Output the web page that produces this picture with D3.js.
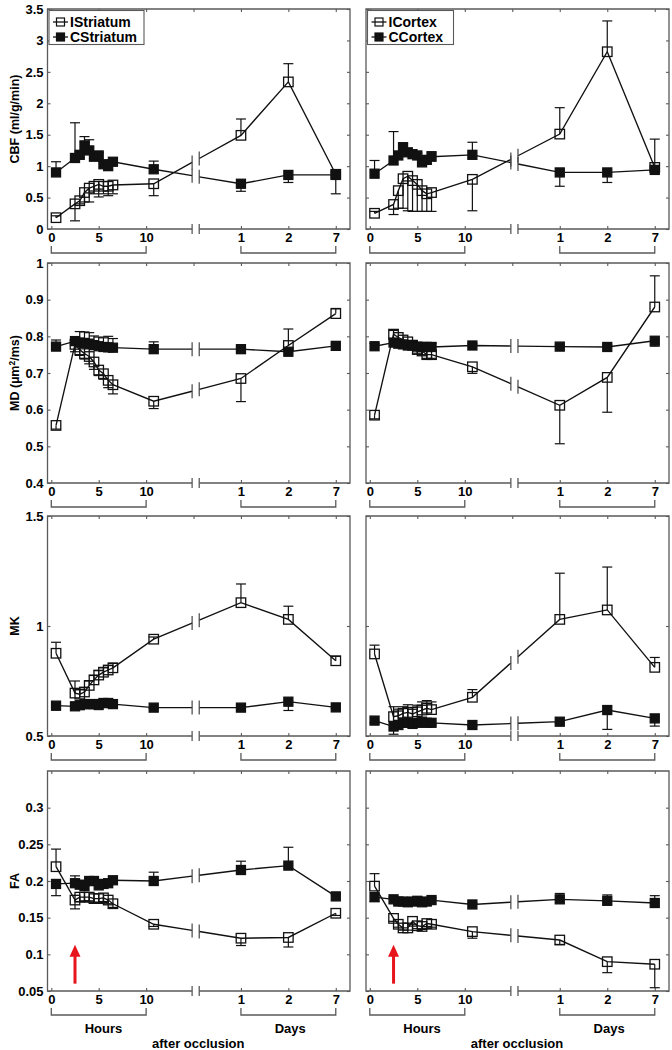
<!DOCTYPE html>
<html>
<head>
<meta charset="utf-8">
<script src="https://cdnjs.cloudflare.com/ajax/libs/d3/7.8.5/d3.min.js"></script>
<style>
body { margin: 0; background: #fff; }
text { font-family: "Liberation Sans", Arial, sans-serif; font-weight: bold; }
</style>
</head>
<body>
<script>
// time points: hours after occlusion, then days
var hours = [0.5, 2.5, 3, 3.5, 4, 4.5, 5, 5.5, 6, 6.5, 10.8],
    days = [1, 2, 7];

var xTicks = [0, 5, 10, 15, 20, 25, 30],
    xTickLabels = ['0', '5', '10', '', '1', '2', '7'];

var yLims = [[0, 3.5], [0.4, 1], [0.5, 1.5], [0.05, 0.35]];
var yTicks = [
    [0, 0.5, 1, 1.5, 2, 2.5, 3, 3.5],
    [0.4, 0.5, 0.6, 0.7, 0.8, 0.9, 1],
    [0.5, 1, 1.5],
    [0.05, 0.1, 0.15, 0.2, 0.25, 0.3]
];
var yTickLabels = [
    ['0', '0.5', '1', '1.5', '2', '2.5', '3', '3.5'],
    ['0.4', '0.5', '0.6', '0.7', '0.8', '0.9', '1'],
    ['0.5', '1', '1.5'],
    ['0.05', '0.1', '0.15', '0.2', '0.25', '0.3']
];

var legendNames = [['IStriatum', 'CStriatum'], ['ICortex', 'CCortex']];

// CBF
var cbfIStriatum = [0.18, 0.40, 0.45, 0.58, 0.65, 0.68, 0.71, 0.68, 0.68, 0.70, 0.72, 1.49, 2.34, 0.87],
    cbfIStriatumErr = [0.03, -0.27, -0.05, -0.15, -0.22, -0.12, -0.20, -0.12, -0.15, -0.14, -0.19, 0.26, 0.29, 0.03],
    cbfCStriatum = [0.90, 1.13, 1.18, 1.33, 1.25, 1.15, 1.17, 1.03, 1.00, 1.07, 0.95, 0.72, 0.86, 0.86],
    cbfCStriatumErr = [0.17, 0.56, 0.05, 0.14, 0.17, 0.05, 0.04, 0.04, 0.04, 0.04, 0.13, -0.12, -0.12, -0.30];
var cbfICortex = [0.25, 0.39, 0.61, 0.80, 0.84, 0.77, 0.71, 0.61, 0.56, 0.58, 0.79, 1.51, 2.82, 0.98],
    cbfICortexErr = [0.03, -0.16, -0.28, -0.47, -0.55, -0.49, -0.43, -0.33, -0.28, -0.30, -0.50, 0.42, 0.49, 0.45],
    cbfCCortex = [0.88, 1.09, 1.17, 1.30, 1.22, 1.19, 1.17, 1.06, 1.10, 1.15, 1.18, 0.90, 0.90, 0.94],
    cbfCCortexErr = [0.21, 0.46, 0.05, 0.07, 0.05, 0.04, 0.04, 0.04, 0.05, 0.08, 0.20, -0.22, -0.16, 0.03];

// MD
var mdIStriatum = [0.557, 0.778, 0.763, 0.753, 0.745, 0.730, 0.708, 0.698, 0.680, 0.668, 0.623, 0.685, 0.775, 0.862],
    mdIStriatumErr = [-0.01, -0.02, -0.015, -0.015, -0.02, -0.02, -0.015, -0.015, -0.02, -0.025, -0.02, -0.063, 0.045, 0.014],
    mdCStriatum = [0.772, 0.787, 0.783, 0.782, 0.780, 0.776, 0.773, 0.771, 0.770, 0.769, 0.765, 0.765, 0.758, 0.774],
    mdCStriatumErr = [0.018, 0.01, 0.03, 0.03, 0.03, 0.025, 0.025, 0.025, 0.03, 0.025, 0.02, 0.005, 0.005, 0.005];
var mdICortex = [0.585, 0.806, 0.797, 0.790, 0.785, 0.776, 0.764, 0.760, 0.750, 0.750, 0.717, 0.612, 0.688, 0.880],
    mdICortexErr = [-0.01, 0.01, -0.012, -0.01, -0.01, -0.01, -0.01, -0.01, -0.01, -0.01, -0.018, -0.105, -0.095, 0.085],
    mdCCortex = [0.773, 0.783, 0.780, 0.778, 0.775, 0.775, 0.772, 0.771, 0.771, 0.771, 0.775, 0.772, 0.771, 0.788],
    mdCCortexErr = [0.008, 0.01, 0.01, 0.01, 0.01, 0.01, 0.01, 0.01, 0.012, 0.01, 0.005, 0.004, 0.005, -0.015];

// MK
var mkIStriatum = [0.876, 0.695, 0.690, 0.700, 0.730, 0.755, 0.777, 0.790, 0.800, 0.810, 0.940, 1.106, 1.030, 0.842],
    mkIStriatumErr = [0.05, 0.055, 0.02, 0.02, 0.02, 0.02, 0.02, 0.02, 0.02, 0.02, 0.01, 0.085, 0.06, 0.02],
    mkCStriatum = [0.638, 0.635, 0.640, 0.645, 0.645, 0.645, 0.645, 0.650, 0.650, 0.645, 0.629, 0.629, 0.656, 0.630],
    mkCStriatumErr = [-0.02, -0.01, -0.015, -0.01, -0.01, -0.02, -0.025, -0.015, -0.01, -0.01, -0.005, -0.005, -0.04, -0.005];
var mkICortex = [0.873, 0.588, 0.592, 0.603, 0.607, 0.600, 0.610, 0.618, 0.626, 0.620, 0.676, 1.030, 1.073, 0.812],
    mkICortexErr = [0.04, 0.045, 0.03, 0.03, 0.035, 0.03, 0.03, 0.037, 0.035, 0.035, 0.035, 0.21, 0.195, 0.045],
    mkCCortex = [0.570, 0.543, 0.550, 0.560, 0.560, 0.555, 0.560, 0.565, 0.560, 0.560, 0.550, 0.565, 0.618, 0.580],
    mkCCortexErr = [-0.01, -0.035, -0.02, -0.015, -0.01, -0.01, -0.01, -0.01, -0.01, -0.01, -0.005, -0.005, -0.088, -0.035];

// FA
var faIStriatum = [0.2195, 0.174, 0.178, 0.178, 0.178, 0.176, 0.176, 0.177, 0.174, 0.169, 0.141, 0.122, 0.123, 0.156],
    faIStriatumErr = [0.024, -0.012, -0.006, -0.005, -0.005, -0.005, -0.005, -0.005, -0.005, -0.005, -0.003, -0.01, -0.013, -0.003],
    faCStriatum = [0.196, 0.197, 0.195, 0.193, 0.200, 0.200, 0.194, 0.196, 0.197, 0.201, 0.200, 0.215, 0.221, 0.179],
    faCStriatumErr = [-0.016, 0.01, 0.005, 0.005, 0.005, 0.005, 0.005, 0.005, 0.005, 0.005, 0.012, 0.012, 0.025, 0.003];
var faICortex = [0.193, 0.149, 0.141, 0.136, 0.136, 0.145, 0.139, 0.138, 0.142, 0.141, 0.131, 0.1195, 0.090, 0.0865],
    faICortexErr = [0.017, -0.004, -0.004, -0.003, -0.003, -0.004, -0.004, -0.004, -0.004, -0.004, -0.009, -0.006, -0.015, -0.032],
    faCCortex = [0.178, 0.175, 0.172, 0.172, 0.171, 0.172, 0.173, 0.171, 0.172, 0.174, 0.168, 0.175, 0.173, 0.170],
    faCCortexErr = [-0.006, 0.003, 0.003, 0.003, 0.003, 0.003, 0.003, 0.003, 0.003, 0.003, 0.002, 0.008, 0.008, 0.01];

// red arrow marking (hours, FA values)
var arrowAt = 2.5, arrowFrom = 0.06, arrowTo = 0.113;

var panels = [
    {row: 0, col: 0, ipsi: cbfIStriatum, ipsiErr: cbfIStriatumErr, contra: cbfCStriatum, contraErr: cbfCStriatumErr},
    {row: 0, col: 1, ipsi: cbfICortex, ipsiErr: cbfICortexErr, contra: cbfCCortex, contraErr: cbfCCortexErr},
    {row: 1, col: 0, ipsi: mdIStriatum, ipsiErr: mdIStriatumErr, contra: mdCStriatum, contraErr: mdCStriatumErr},
    {row: 1, col: 1, ipsi: mdICortex, ipsiErr: mdICortexErr, contra: mdCCortex, contraErr: mdCCortexErr},
    {row: 2, col: 0, ipsi: mkIStriatum, ipsiErr: mkIStriatumErr, contra: mkCStriatum, contraErr: mkCStriatumErr},
    {row: 2, col: 1, ipsi: mkICortex, ipsiErr: mkICortexErr, contra: mkCCortex, contraErr: mkCCortexErr},
    {row: 3, col: 0, ipsi: faIStriatum, ipsiErr: faIStriatumErr, contra: faCStriatum, contraErr: faCStriatumErr},
    {row: 3, col: 1, ipsi: faICortex, ipsiErr: faICortexErr, contra: faCCortex, contraErr: faCCortexErr}
];

// layout
var colX = [47.5, 366], colW = [302.5, 303],
    rowY = [9, 263, 516, 771], rowH = 220,
    xLim = [-0.4, 31.5],
    gapL = 14.85, gapR = 15.6,
    axisColor = '#5a5a5a';

var svg = d3.select('body').append('svg')
    .attr('width', 672)
    .attr('height', 1050);

// days sit on their own stretch of the broken axis
var dayScale = d3.scalePoint().domain(days).range([20, 30]);
var xVals = hours.concat(days.map(dayScale));

function styleAxis(g, showText) {
    g.select('.domain').remove();
    g.selectAll('.tick line').attr('stroke', axisColor).attr('stroke-width', 1.1);
    g.selectAll('.tick text')
        .attr('fill', '#000')
        .attr('font-size', 13)
        .attr('font-family', '"Liberation Sans", Arial, sans-serif')
        .attr('font-weight', 'bold');
    if (!showText) g.selectAll('.tick text').remove();
}

function drawSeries(g, x, y, vals, errs, open) {
    var pts = xVals.map((u, i) => ({u: u, v: vals[i], e: errs[i]}));
    var last = hours.length - 1;
    var interp = d3.scaleLinear()
        .domain([pts[last].u, pts[last + 1].u])
        .range([pts[last].v, pts[last + 1].v]);
    var leftSeg = pts.slice(0, last + 1).concat([{u: gapL, v: interp(gapL)}]),
        rightSeg = [{u: gapR, v: interp(gapR)}].concat(pts.slice(last + 1));
    var line = d3.line().x(d => x(d.u)).y(d => y(d.v));

    [leftSeg, rightSeg].forEach(seg => {
        g.append('path')
            .attr('d', line(seg))
            .attr('fill', 'none')
            .attr('stroke', '#111')
            .attr('stroke-width', 1.35);
    });

    // break marks on the line
    [gapL, gapR].forEach(u => {
        g.append('line')
            .attr('x1', x(u)).attr('x2', x(u))
            .attr('y1', y(interp(u)) - 7).attr('y2', y(interp(u)) + 7)
            .attr('stroke', '#444')
            .attr('stroke-width', 1.2);
    });

    // one-sided error bars
    var eb = g.append('g').attr('stroke', '#111').attr('stroke-width', 1.2);
    eb.selectAll('.bar').data(pts).enter().append('line')
        .attr('x1', d => x(d.u)).attr('x2', d => x(d.u))
        .attr('y1', d => y(d.v)).attr('y2', d => y(d.v + d.e));
    eb.selectAll('.cap').data(pts).enter().append('line')
        .attr('x1', d => x(d.u) - 5).attr('x2', d => x(d.u) + 5)
        .attr('y1', d => y(d.v + d.e)).attr('y2', d => y(d.v + d.e));

    var s = open ? 9.5 : 9;
    g.selectAll('.mk' + (open ? 'o' : 'f')).data(pts).enter().append('rect')
        .attr('x', d => x(d.u) - s / 2)
        .attr('y', d => y(d.v) - s / 2)
        .attr('width', s).attr('height', s)
        .attr('fill', open ? 'none' : '#111')
        .attr('stroke', '#111')
        .attr('stroke-width', 1.3);
}

panels.forEach(p => {
    var left = colX[p.col], right = colX[p.col] + colW[p.col],
        top = rowY[p.row], bottom = top + rowH;
    var x = d3.scaleLinear().domain(xLim).range([left, right]);
    var y = d3.scaleLinear().domain(yLims[p.row]).range([bottom, top]);
    var g = svg.append('g');

    // ticks on all four sides, pointing inward
    g.append('g').attr('transform', 'translate(' + left + ',0)')
        .call(d3.axisLeft(y).tickValues(yTicks[p.row])
            .tickFormat((d, i) => yTickLabels[p.row][i]).tickSize(-3).tickPadding(4))
        .call(ax => styleAxis(ax, p.col === 0));
    g.append('g').attr('transform', 'translate(' + right + ',0)')
        .call(d3.axisRight(y).tickValues(yTicks[p.row]).tickSize(-3))
        .call(ax => styleAxis(ax, false));
    g.append('g').attr('transform', 'translate(0,' + top + ')')
        .call(d3.axisTop(x).tickValues(xTicks).tickSize(-3))
        .call(ax => styleAxis(ax, false));
    g.append('g').attr('transform', 'translate(0,' + bottom + ')')
        .call(d3.axisBottom(x).tickValues(xTicks.filter(t => t !== 15))
            .tickFormat(d => xTickLabels[xTicks.indexOf(d)]).tickSize(-3).tickPadding(4))
        .call(ax => styleAxis(ax, true));

    // box with a broken bottom edge
    var box = g.append('g').attr('stroke', axisColor).attr('stroke-width', 1.3).attr('fill', 'none');
    box.append('path').attr('d', 'M' + x(gapL) + ',' + bottom + 'H' + left + 'V' + top + 'H' + right + 'V' + bottom + 'H' + x(gapR));
    [gapL, gapR].forEach(u => {
        box.append('line').attr('x1', x(u)).attr('x2', x(u))
            .attr('y1', bottom - 5).attr('y2', bottom + 5);
    });

    // brackets grouping hours and days
    [[0, 10], [20, 30]].forEach(r => {
        box.append('path')
            .attr('d', 'M' + x(r[0]) + ',' + (bottom + 17) + 'V' + (bottom + 24) + 'H' + x(r[1]) + 'V' + (bottom + 17));
    });

    drawSeries(g, x, y, p.ipsi, p.ipsiErr, true);
    drawSeries(g, x, y, p.contra, p.contraErr, false);

    // y label
    if (p.col === 0) {
        var yl = g.append('text')
            .attr('transform', 'translate(15,' + (top + rowH / 2) + ') rotate(-90)')
            .attr('text-anchor', 'middle')
            .attr('dy', '0.35em')
            .attr('font-size', 12.5);
        if (p.row === 0) yl.text('CBF (ml/g/min)');
        if (p.row === 1) {
            yl.append('tspan').text('MD (\u00b5m');
            yl.append('tspan').attr('font-size', 8.5).attr('dy', '-0.55em').text('2');
            yl.append('tspan').attr('dy', '0.35em').text('/ms)');
        }
        if (p.row === 2) yl.text('MK');
        if (p.row === 3) yl.text('FA');
    }

    // legend
    if (p.row === 0) {
        var lw = p.col === 0 ? 95 : 86;
        var lg = g.append('g').attr('transform', 'translate(' + (left + 1.5) + ',' + (top + 1.5) + ')');
        lg.append('rect').attr('width', lw).attr('height', 34)
            .attr('fill', '#fff').attr('stroke', axisColor).attr('stroke-width', 1.1);
        legendNames[p.col].forEach((name, i) => {
            var cy = 11.5 + i * 15;
            lg.append('line').attr('x1', 4).attr('x2', 19).attr('y1', cy).attr('y2', cy)
                .attr('stroke', '#111').attr('stroke-width', 1.3);
            lg.append('rect').attr('x', 7.5).attr('y', cy - 4).attr('width', 8).attr('height', 8)
                .attr('fill', i === 0 ? 'none' : '#111').attr('stroke', '#111').attr('stroke-width', 1.2);
            lg.append('text').attr('x', 21).attr('y', cy).attr('dy', '0.36em')
                .attr('font-size', 14).text(name);
        });
    }

    // bottom row: arrow and axis captions
    if (p.row === 3) {
        var ax0 = x(arrowAt), yTip = y(arrowTo);
        g.append('line').attr('x1', ax0).attr('x2', ax0)
            .attr('y1', y(arrowFrom)).attr('y2', yTip + 10)
            .attr('stroke', '#e8141c').attr('stroke-width', 3);
        g.append('path')
            .attr('d', 'M' + ax0 + ',' + yTip + 'L' + (ax0 + 5.5) + ',' + (yTip + 12) + 'L' + (ax0 - 5.5) + ',' + (yTip + 12) + 'Z')
            .attr('fill', '#e8141c');
        [['Hours', 5.5, 41.5], ['Days', 25.2, 41.5], ['after occlusion', 15.5, 56.5]].forEach(t => {
            g.append('text').attr('x', x(t[1])).attr('y', bottom + t[2])
                .attr('text-anchor', 'middle').attr('font-size', 13).text(t[0]);
        });
    }
});
</script>
</body>
</html>
